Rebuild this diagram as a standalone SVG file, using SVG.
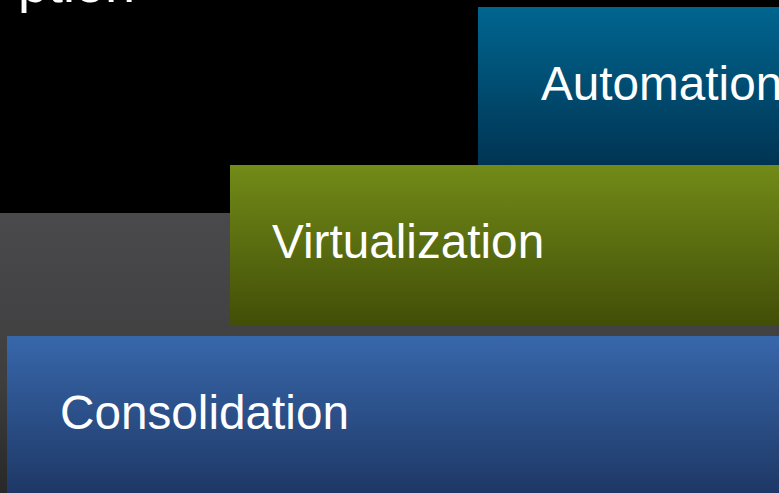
<svg xmlns="http://www.w3.org/2000/svg" width="779" height="493" viewBox="0 0 779 493">
<style>
.lbl{font-family:"Liberation Sans",Arial,sans-serif;font-size:47.7px;fill:#ffffff}
</style>
<defs>
<linearGradient id="gGray" x1="0" y1="0" x2="0" y2="1">
<stop offset="0" stop-color="#4a4a4c"/>
<stop offset="0.6" stop-color="#3e3e3f"/>
<stop offset="1" stop-color="#282828"/>
</linearGradient>
<linearGradient id="gAuto" x1="0" y1="0" x2="0" y2="1">
<stop offset="0" stop-color="#006690"/>
<stop offset="1" stop-color="#003352"/>
</linearGradient>
<linearGradient id="gVirt" x1="0" y1="0" x2="0" y2="1">
<stop offset="0" stop-color="#728b18"/>
<stop offset="1" stop-color="#414e07"/>
</linearGradient>
<linearGradient id="gCons" x1="0" y1="0" x2="0" y2="1">
<stop offset="0" stop-color="#3867ab"/>
<stop offset="1" stop-color="#1e3866"/>
</linearGradient>
</defs>
<rect x="0" y="0" width="779" height="493" fill="#000000"/>
<rect x="0" y="213" width="779" height="280" fill="url(#gGray)"/>
<text class="lbl" x="18" y="2" style="font-size:54px">ption</text>
<g id="connectors"></g>
<g id="automation">
<rect x="478" y="7" width="301" height="161" fill="url(#gAuto)"/>
<text class="lbl" x="541" y="100">Automation</text>
</g>
<g id="virtualization">
<rect x="230" y="165" width="549" height="161" fill="url(#gVirt)"/>
<text class="lbl" x="272" y="258">Virtualization</text>
</g>
<g id="consolidation">
<rect x="7" y="336" width="772" height="157" fill="url(#gCons)"/>
<text class="lbl" x="60" y="429">Consolidation</text>
</g>
</svg>
